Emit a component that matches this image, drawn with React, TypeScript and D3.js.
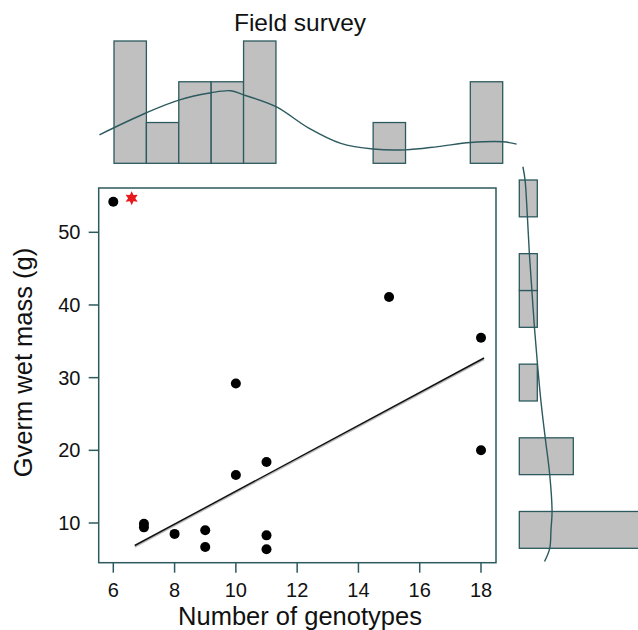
import React from 'react'
import * as d3 from 'd3'

// scatter data: number of genotypes vs wet mass
const genotypes = [6, 7, 7, 8, 9, 9, 10, 10, 11, 11, 11, 15, 18, 18]
const wetMass = [54.2, 9.9, 9.4, 8.5, 9.0, 6.7, 29.2, 16.6, 18.4, 8.3, 6.4, 41.1, 35.5, 20.0]
const starPoint = [6.6, 54.7]
const fitStart = [6.7, 6.9]
const fitEnd = [18.1, 32.7]

const xTicks = [6, 8, 10, 12, 14, 16, 18]
const yTicks = [10, 20, 30, 40, 50]

// top histogram (genotypes), bins of width 1
const topBinStarts = [6, 7, 8, 9, 10, 11, 12, 13, 14, 15, 16, 17]
const topCounts = [3, 1, 2, 2, 3, 0, 0, 0, 1, 0, 0, 2]
const topDensX = [5.55, 7, 8, 9, 9.6, 10, 11, 12, 13, 14, 15, 16, 17, 18, 18.43]
const topDensY = [0.7, 1.24, 1.55, 1.73, 1.78, 1.68, 1.39, 0.87, 0.49, 0.35, 0.33, 0.41, 0.51, 0.53, 0.47]

// right histogram (mass), bins of width 5
const rightBinStarts = [5, 10, 15, 20, 25, 30, 35, 40, 45, 50]
const rightCounts = [7, 0, 3, 0, 1, 0, 1, 1, 0, 1]
const rightDensY = [56.8, 55, 50, 45, 40, 35, 30, 25, 20, 15, 10, 7.5, 5, 3.2]
const rightDensX = [0.2, 0.32, 0.45, 0.56, 0.7, 0.84, 1.01, 1.2, 1.44, 1.69, 1.82, 1.76, 1.69, 1.4]

const W = 638
const H = 630
const teal = '#2c5a5e'
const font = '"Liberation Sans", Arial, Helvetica, sans-serif'
const box = { left: 98.7, right: 496, top: 188, bottom: 562.7 }

export default function App() {
  const x = d3.scaleLinear().domain([6, 18]).range([113.3, 481])
  const y = d3.scaleLinear().domain([10, 50]).range([523, 232.3])

  const tx = d3.scaleLinear().domain([6, 18]).range([114, 502.7])
  const ty = d3.scaleLinear().domain([0, 3]).range([163.3, 41])

  const ry = d3.scaleLinear().domain([5, 55]).range([548.3, 180])
  const rx = d3.scaleLinear().domain([0, 1]).range([519.3, 537.3])

  const topLine = d3.line<number>()
    .x((d, i) => tx(topDensX[i]))
    .y(d => ty(d))
    .curve(d3.curveCatmullRom)(topDensY)

  const rightLine = d3.line<number>()
    .x(d => rx(d))
    .y((d, i) => ry(rightDensY[i]))
    .curve(d3.curveCatmullRom)(rightDensX)

  // six pointed star
  const starPts: [number, number][] = d3.range(12).map(i => [i * Math.PI / 6, i % 2 === 0 ? 7 : 3.6])
  const star = d3.lineRadial().curve(d3.curveLinearClosed)(starPts)

  return (
    <svg width={W} height={H} style={{ position: 'absolute', left: 0, top: 0, background: '#fff' }}>
      <defs>
        <clipPath id="page"><rect x={0} y={0} width={W} height={H} /></clipPath>
      </defs>

      <text x={300} y={31} textAnchor="middle" fontFamily={font} fontSize={24.5} fill="#111">Field survey</text>

      {/* top histogram */}
      <g>
        {topBinStarts.map((b, i) => (
          <rect key={i} x={tx(b)} y={ty(topCounts[i])} width={tx(b + 1) - tx(b)}
            height={ty(0) - ty(topCounts[i])} fill="#c0c0c0" stroke={teal} strokeWidth={1.3} />
        ))}
        <path d={topLine ?? ''} fill="none" stroke={teal} strokeWidth={1.4} />
      </g>

      {/* right histogram */}
      <g clipPath="url(#page)">
        {rightBinStarts.map((b, i) => (
          <rect key={i} x={rx(0)} y={ry(b + 5)} width={rx(rightCounts[i]) - rx(0)}
            height={ry(b) - ry(b + 5)} fill="#c0c0c0" stroke={teal} strokeWidth={1.3} />
        ))}
        <path d={rightLine ?? ''} fill="none" stroke={teal} strokeWidth={1.4} />
      </g>

      {/* main panel */}
      <rect x={box.left} y={box.top} width={box.right - box.left} height={box.bottom - box.top}
        fill="none" stroke={teal} strokeWidth={1.5} />

      {xTicks.map(t => (
        <g key={t}>
          <line x1={x(t)} x2={x(t)} y1={box.bottom} y2={box.bottom + 10} stroke={teal} strokeWidth={1.5} />
          <text x={x(t)} y={597} textAnchor="middle" fontFamily={font} fontSize={20} fill="#111">{t}</text>
        </g>
      ))}
      {yTicks.map(t => (
        <g key={t}>
          <line x1={box.left - 10} x2={box.left} y1={y(t)} y2={y(t)} stroke={teal} strokeWidth={1.5} />
          <text x={80.5} y={y(t)} dy="0.35em" textAnchor="end" fontFamily={font} fontSize={20} fill="#111">{t}</text>
        </g>
      ))}

      <text x={300} y={625} textAnchor="middle" fontFamily={font} fontSize={25.5} fill="#111">Number of genotypes</text>
      <text transform={`translate(32, 362.5) rotate(-90)`} textAnchor="middle" fontFamily={font} fontSize={25.5} fill="#111">Gverm wet mass (g)</text>

      {/* regression line */}
      <line x1={x(fitStart[0])} y1={y(fitStart[1]) + 1.5} x2={x(fitEnd[0])} y2={y(fitEnd[1]) + 1.5}
        stroke="#bbb" strokeWidth={1.5} />
      <line x1={x(fitStart[0])} y1={y(fitStart[1])} x2={x(fitEnd[0])} y2={y(fitEnd[1])}
        stroke="#111" strokeWidth={1.5} />

      {genotypes.map((g, i) => (
        <circle key={i} cx={x(g)} cy={y(wetMass[i])} r={5} fill="#000" />
      ))}

      <path d={star ?? ''} transform={`translate(${x(starPoint[0])}, ${y(starPoint[1])})`} fill="#e8191a" />
    </svg>
  )
}
